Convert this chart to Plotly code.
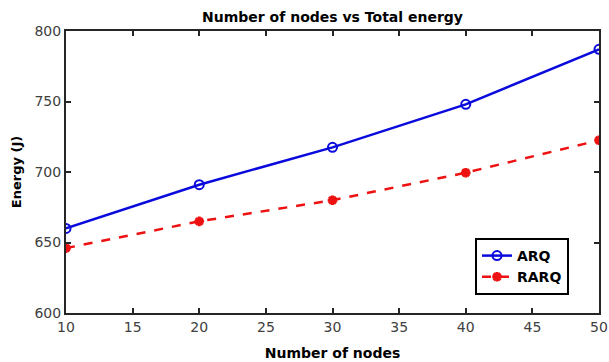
import plotly.graph_objects as go

nodes = [10, 20, 30, 40, 50]
arq = [660, 691, 717.5, 748, 787]
rarq = [646, 665, 680, 699.5, 722.5]
x_ticks = [10, 15, 20, 25, 30, 35, 40, 45, 50]
y_ticks = [600, 650, 700, 750, 800]

FONT = "DejaVu Sans, Arial, sans-serif"

fig = go.Figure()
fig.add_trace(go.Scatter(
    x=nodes, y=arq, name="ARQ", mode="lines+markers",
    line=dict(color="#0a0adc", width=2.5),
    marker=dict(symbol="circle-open", size=9, color="#0a0adc", line=dict(width=2, color="#0a0adc")),
))
fig.add_trace(go.Scatter(
    x=nodes, y=rarq, name="RARQ", mode="lines+markers",
    line=dict(color="#ee1111", width=2.5, dash="dash"),
    marker=dict(symbol="asterisk-open", size=8, color="#ee1111", line=dict(width=3, color="#ee1111")),
))

axis_common = dict(
    showline=True, linecolor="#262626", linewidth=2, mirror="ticks",
    ticks="inside", ticklen=5, tickwidth=2, tickcolor="#262626",
    showgrid=False, zeroline=False, ticklabeloverflow="allow", automargin=False,
    tickfont=dict(family=FONT, size=14, color="#404040"),
)

L, R = 66, 10
PW = 609 - L - R

fig.update_layout(
    width=609, height=362,
    margin=dict(l=L, r=R, t=31, b=49),
    paper_bgcolor="white", plot_bgcolor="white",
    title=dict(text="<b>Number of nodes vs Total energy</b>", x=(L + 609 - R) / 2 / 609, xanchor="center",
               y=1 - 17 / 362, yanchor="middle",
               font=dict(family=FONT, size=14, color="black")),
    xaxis=dict(range=[10, 50], tickvals=x_ticks,
               title=dict(text="<b>Number of nodes</b>", standoff=14,
                          font=dict(family=FONT, size=14, color="black")),
               **axis_common),
    yaxis=dict(range=[600, 800], tickvals=y_ticks,
               title=dict(text="<b>Energy (J)</b>", standoff=10,
                          font=dict(family=FONT, size=13, color="black")),
               **axis_common),
    legend=dict(x=(475 - L) / PW, y=(313 - 238) / 282, xanchor="left", yanchor="top",
                bgcolor="white", bordercolor="black", borderwidth=2,
                font=dict(family=FONT, size=14, color="black", weight="bold"),
                tracegroupgap=0, itemwidth=30, entrywidth=62, entrywidthmode="pixels"),
    showlegend=True,
)

fig.write_html("out.html")
